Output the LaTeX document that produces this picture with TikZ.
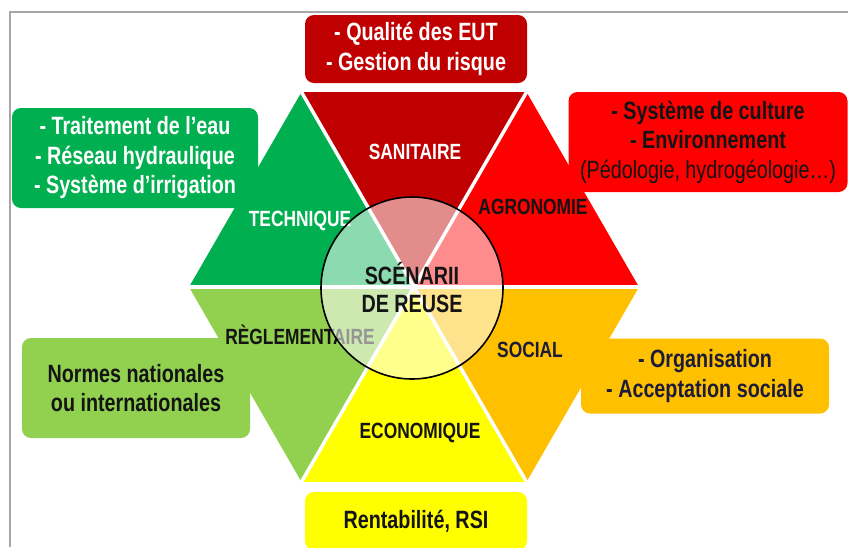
\documentclass[tikz,border=0pt]{standalone}
\usepackage{fontspec}
\setmainfont{Liberation Sans}[FakeStretch=0.79]
\definecolor{sanit}{HTML}{C00000}
\definecolor{agro}{HTML}{FF0000}
\definecolor{techn}{HTML}{00B050}
\definecolor{regl}{HTML}{92D050}
\definecolor{econ}{HTML}{FFFF00}
\definecolor{soc}{HTML}{FFC000}
\definecolor{ink}{HTML}{141414}
\definecolor{navy}{HTML}{1C1C3A}
\begin{document}
\begin{tikzpicture}[x=1pt,y=-1pt,
    box/.style={rectangle, rounded corners=9pt, inner sep=0pt, align=center,
      font=\fontsize{25}{29.5}\selectfont\bfseries},
    lbl/.style={font=\fontsize{22}{26}\selectfont\bfseries},
    gap/.style={white, line width=3.5pt}]
  \useasboundingbox (0,0) rectangle (848,547);
  \fill[white] (0,0) rectangle (848,547);
  \draw[gray!70, line width=2.5pt] (10,547) -- (10,12) -- (848,12);

  % boxes
  \node[box, fill=sanit, text=white, minimum width=222pt, minimum height=68pt]
    (bsan) at (416,49) {- Qualité des EUT\\- Gestion du risque};
  \node[box, fill=techn, text=white, minimum width=246pt, minimum height=100pt]
    (btech) at (135,158) {- Traitement de l’eau\\- Réseau hydraulique\\- Système d’irrigation};
  \node[box, fill=agro, text=ink, minimum width=279pt, minimum height=100pt]
    (bagro) at (708,142) {- Système de culture\\- Environnement\\{\mdseries(Pédologie, hydrogéologie…)}};
  \node[box, fill=regl, text=ink, minimum width=228pt, minimum height=100pt]
    (bregl) at (136,388) {Normes nationales\\ou internationales};
  \node[box, fill=soc, text=navy, minimum width=248pt, minimum height=75pt]
    (bsoc) at (705,376) {- Organisation\\- Acceptation sociale};
  \node[box, fill=econ, text=ink, minimum width=222pt, minimum height=58pt]
    (becon) at (416,521) {Rentabilité, RSI};

  % hexagon
  \coordinate (o) at (414,287);
  \coordinate (v0) at (639,287);
  \coordinate (v60) at (526.5,92.1);
  \coordinate (v120) at (301.5,92.1);
  \coordinate (v180) at (189,287);
  \coordinate (v240) at (301.5,481.9);
  \coordinate (v300) at (526.5,481.9);
  \fill[sanit] (o) -- (v60) -- (v120) -- cycle;
  \fill[agro] (o) -- (v0) -- (v60) -- cycle;
  \fill[techn] (o) -- (v120) -- (v180) -- cycle;
  \fill[regl] (o) -- (v180) -- (v240) -- cycle;
  \fill[econ] (o) -- (v240) -- (v300) -- cycle;
  \fill[soc] (o) -- (v300) -- (v0) -- cycle;
  \draw[gap] (v0) -- (v180);
  \draw[gap] (v60) -- (v240);
  \draw[gap] (v120) -- (v300);

  % labels
  \node[lbl, text=white] (san) at (415,152) {SANITAIRE};
  \node[lbl, text=white] (tech) at (300,221) {TECHNIQUE};
  \node[lbl, text=ink] (agr) at (533,207) {AGRONOMIE};
  \node[lbl, text=ink] (reg) at (300,335) {RÈGLEMENTAIRE};
  \node[lbl, text=navy] (soci) at (530,350) {SOCIAL};
  \node[lbl, text=ink] (eco) at (420,433) {ECONOMIQUE};

  % centre
  \node[circle, draw=black, line width=1.6pt, fill=white, fill opacity=0.55,
    text opacity=1, minimum size=182pt, align=center, text=ink,
    font=\fontsize{25}{28}\selectfont\bfseries] (scen) at (412,288) {SCÉNARII\\DE REUSE};
\end{tikzpicture}
\end{document}
